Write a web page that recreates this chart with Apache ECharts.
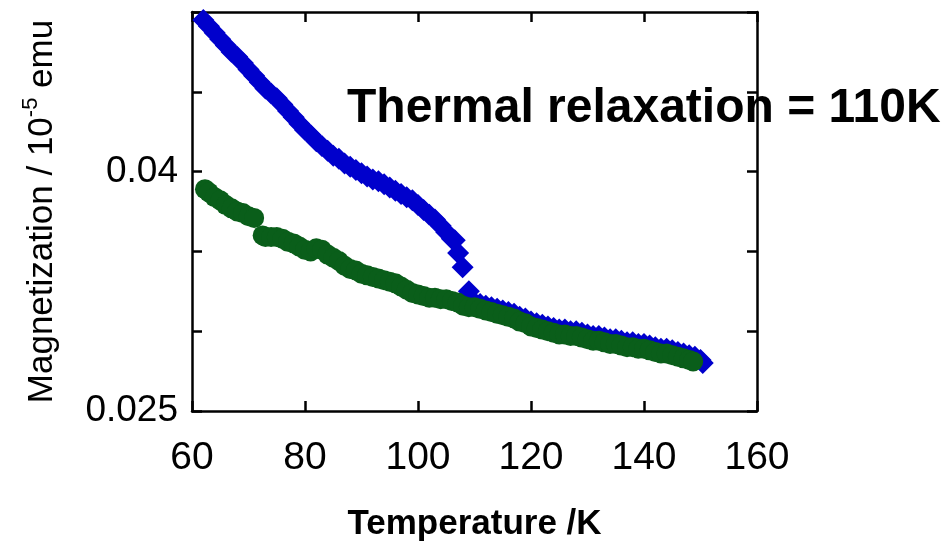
<!DOCTYPE html>
<html>
<head>
<meta charset="utf-8">
<script src="https://cdn.jsdelivr.net/npm/echarts@6/dist/echarts.min.js"></script>
<style>
  html, body { margin: 0; padding: 0; background: #fff; }
  #chart { width: 946px; height: 542px; }
</style>
</head>
<body>
<div id="chart"></div>
<script>
// blue diamonds (heating curve)
const blueT = [62, 63, 64, 65, 66, 67, 68, 69, 70, 71, 72, 73, 74, 75, 76, 77, 78, 79, 80, 81,
  82, 83, 84, 85, 86, 87, 88, 89, 90, 91, 92, 93, 94, 95, 96, 97, 98, 99, 100, 101,
  102, 103, 104, 105, 106, 106.5, 107.1, 107.9, 109, 110, 111, 112, 113, 114, 115, 116, 117, 118, 119,
  120, 121, 122, 123, 124, 125, 126, 127, 128, 129, 130, 131, 132, 133, 134, 135, 136, 137, 138,
  139, 140, 141, 142, 143, 144, 145, 146, 147, 148, 149, 150, 150.4]
const blueM = [0.0495, 0.0491, 0.0487, 0.0483, 0.0479, 0.0475, 0.0472, 0.0468, 0.0464, 0.0460,
  0.0456, 0.0452, 0.0449, 0.0446, 0.0442, 0.0438, 0.0434, 0.0430, 0.0426, 0.0423,
  0.0419, 0.0416, 0.0413, 0.0410, 0.0408, 0.0405, 0.0403, 0.0401, 0.0399, 0.0397,
  0.0395, 0.0394, 0.0392, 0.0390, 0.0388, 0.0386, 0.0384, 0.0382, 0.0379, 0.0376,
  0.0373, 0.0370, 0.0366, 0.0362, 0.0358, 0.0357, 0.0349, 0.0340, 0.0325, 0.0318, 0.0317, 0.0316,
  0.0315, 0.0314, 0.0313, 0.0312, 0.0311, 0.0309, 0.0308, 0.0306, 0.0305, 0.0304, 0.0303,
  0.0302, 0.0301, 0.0301, 0.0300, 0.0300, 0.0299, 0.0298, 0.0297, 0.0297, 0.0296, 0.0295,
  0.0295, 0.0294, 0.0293, 0.0293, 0.0292, 0.0292, 0.0291, 0.0290, 0.0289, 0.0289, 0.0288,
  0.0287, 0.0286, 0.0285, 0.0284, 0.0282, 0.0280]

// green circles (cooling curve)
const greenT = [62.3, 63, 64, 65, 66, 67, 68, 69, 70, 71, 72.5, 73, 74, 75, 76, 77, 78, 79, 80, 81,
  82, 83, 84, 85, 86, 87, 88, 89, 90, 91, 92, 93, 94, 95, 96, 97, 98, 99, 100, 101,
  102, 103, 104, 105, 106, 107, 108, 109, 110, 111, 112, 113, 114, 115, 116, 117, 118, 119,
  120, 121, 122, 123, 124, 125, 126, 127, 128, 129, 130, 131, 132, 133, 134, 135, 136, 137, 138,
  139, 140, 141, 142, 143, 144, 145, 146, 147, 148, 148.7]
const greenM = [0.0389, 0.0387, 0.0384, 0.0382, 0.0379, 0.0377, 0.0375, 0.0374, 0.0372, 0.0371,
  0.0360, 0.0359, 0.0359, 0.0359, 0.0358, 0.0356, 0.0355, 0.0353, 0.0351, 0.0350,
  0.0352, 0.0351, 0.0348, 0.0346, 0.0344, 0.0341, 0.0339, 0.0338, 0.0336, 0.0335,
  0.0334, 0.0333, 0.0332, 0.0331, 0.0330, 0.0328, 0.0326, 0.0324, 0.0323, 0.0322,
  0.0321, 0.0321, 0.0320, 0.0320, 0.0319, 0.0318, 0.0316, 0.0315, 0.0315, 0.0314,
  0.0313, 0.0312, 0.0311, 0.0310, 0.0309, 0.0308, 0.0306, 0.0305, 0.0303, 0.0302,
  0.0301, 0.0300, 0.0299, 0.0298, 0.0298, 0.0297, 0.0297, 0.0296, 0.0295, 0.0294,
  0.0294, 0.0293, 0.0292, 0.0292, 0.0291, 0.0290, 0.0290, 0.0289, 0.0289, 0.0288,
  0.0287, 0.0286, 0.0286, 0.0285, 0.0284, 0.0283, 0.0282, 0.0281]

const xTickLabels = ['60', '80', '100', '120', '140', '160']
const yTickLabels = ['0.025', '0.04']

const chart = echarts.init(document.getElementById('chart'))

const font = 'Liberation Sans, Arial, sans-serif'
const axisLine = { show: true, lineStyle: { color: '#000', width: 2.5 } }
const axisTick = { show: true, inside: true, length: 10, lineStyle: { color: '#000', width: 2.5 } }

function pairs (xs, ys) {
  return xs.map((x, i) => [x, ys[i]])
}

chart.setOption({
  animation: false,
  backgroundColor: '#fff',
  grid: { left: 192, right: 189, top: 12, bottom: 131, outerBoundsMode: 'none', containLabel: false },
  xAxis: [{
    type: 'value', min: 60, max: 160, interval: 20,
    axisLine: axisLine, axisTick: axisTick, splitLine: { show: false },
    axisLabel: {
      margin: 28, color: '#000', fontSize: 39, fontFamily: font,
      formatter: v => xTickLabels.includes(String(v)) ? String(v) : ''
    },
    name: 'Temperature /K', nameLocation: 'middle', nameGap: 96,
    nameTextStyle: { color: '#000', fontSize: 35, fontWeight: 'bold', fontFamily: font }
  }, {
    type: 'value', position: 'top', min: 60, max: 160, interval: 20,
    axisLine: axisLine, axisTick: axisTick, axisLabel: { show: false }, splitLine: { show: false }
  }],
  yAxis: [{
    type: 'value', min: 0.025, max: 0.05, interval: 0.005,
    axisLine: axisLine, axisTick: axisTick, splitLine: { show: false },
    axisLabel: {
      margin: 14, color: '#000', fontSize: 37, fontFamily: font,
      formatter: v => {
        const s = yTickLabels.find(t => Math.abs(parseFloat(t) - v) < 1e-9)
        return s || ''
      }
    },
    name: '{m|Magnetization / 10}{s|-5}{m| emu}', nameLocation: 'middle', nameRotate: 90, nameGap: 132,
    nameTextStyle: {
      color: '#000', fontFamily: font,
      rich: {
        m: { fontSize: 35, fontFamily: font, color: '#000', lineHeight: 40, verticalAlign: 'bottom' },
        s: { fontSize: 22, fontFamily: font, color: '#000', lineHeight: 40, verticalAlign: 'top' }
      }
    }
  }, {
    type: 'value', position: 'right', min: 0.025, max: 0.05, interval: 0.005,
    axisLine: axisLine, axisTick: axisTick, axisLabel: { show: false }, splitLine: { show: false }
  }],
  graphic: [{
    type: 'text', left: 347, top: 85,
    style: {
      text: 'Thermal relaxation = 110K', fill: '#000',
      font: 'bold 48px Liberation Sans, Arial, sans-serif', verticalAlign: 'middle'
    },
    z: 100
  }],
  series: [{
    name: 'blue', type: 'scatter', symbol: 'diamond', symbolSize: 22,
    itemStyle: { color: '#0000cc', opacity: 1 }, z: 2,
    data: pairs(blueT, blueM)
  }, {
    name: 'green', type: 'scatter', symbol: 'circle', symbolSize: 20,
    itemStyle: { color: '#0a5e1a', opacity: 1 }, z: 3,
    data: pairs(greenT, greenM)
  }]
})
</script>
</body>
</html>
